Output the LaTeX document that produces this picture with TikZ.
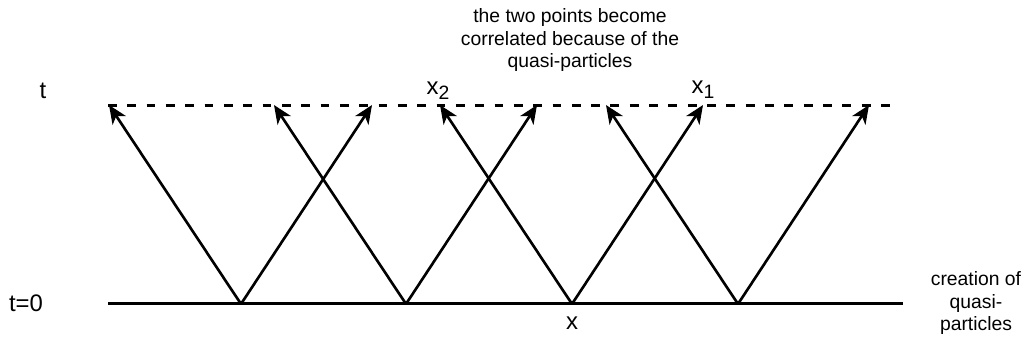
\documentclass[tikz,border=0pt]{standalone}
\usepackage{fontspec}
\setmainfont{Liberation Sans}
\usetikzlibrary{arrows.meta}

\tikzset{
  ray/.style={line width=1.5pt, -{Stealth[length=10.5pt,width=9pt,inset=3pt]}},
  note/.style={align=center, font=\fontsize{11}{12.6}\selectfont},
  lbl/.style={font=\fontsize{13.6}{16}\selectfont},
}
\newcommand{\subtwo}[1]{\raisebox{-3pt}{\fontsize{11}{11}\selectfont #1}}

\begin{document}
\begin{tikzpicture}[x=0.02cm, y=-0.02cm]
  \useasboundingbox (0,0) rectangle (1029,343);
  % the two time slices
  \coordinate (b0) at (108,303.5);
  \coordinate (b1) at (903,303.5);
  \coordinate (t0) at (108,105);
  \coordinate (t1) at (898,105);
  \draw[line width=1.75pt] (b0) -- (b1);
  \draw[line width=1.7pt, dash pattern=on 5pt off 6pt] (t0) -- (t1);
  % quasi-particle pairs, left and right movers
  \foreach \i/\x in {1/241,2/406,3/572,4/738} {
    \coordinate (s\i) at (\x,304);
    \coordinate (l\i) at (\x-132,105);
    \coordinate (r\i) at (\x+131,105);
    \draw[ray] (s\i) -- (l\i);
    \draw[ray] (s\i) -- (r\i);
  }
  % labels
  \node[lbl] (tlab) at (43,91) {t};
  \node[lbl] (t0lab) at (26,303) {t=0};
  \node[lbl] (xlab) at (572,323) {x};
  \node[lbl] (xtwo) at (438,91) {x\subtwo{2}};
  \node[lbl] (xone) at (703,90) {x\subtwo{1}};
  \node[note] (corr) at (570,40) {the two points become\\correlated because of the\\quasi-particles};
  \node[note] (crea) at (976,303) {creation of\\quasi-\\particles};
\end{tikzpicture}
\end{document}
